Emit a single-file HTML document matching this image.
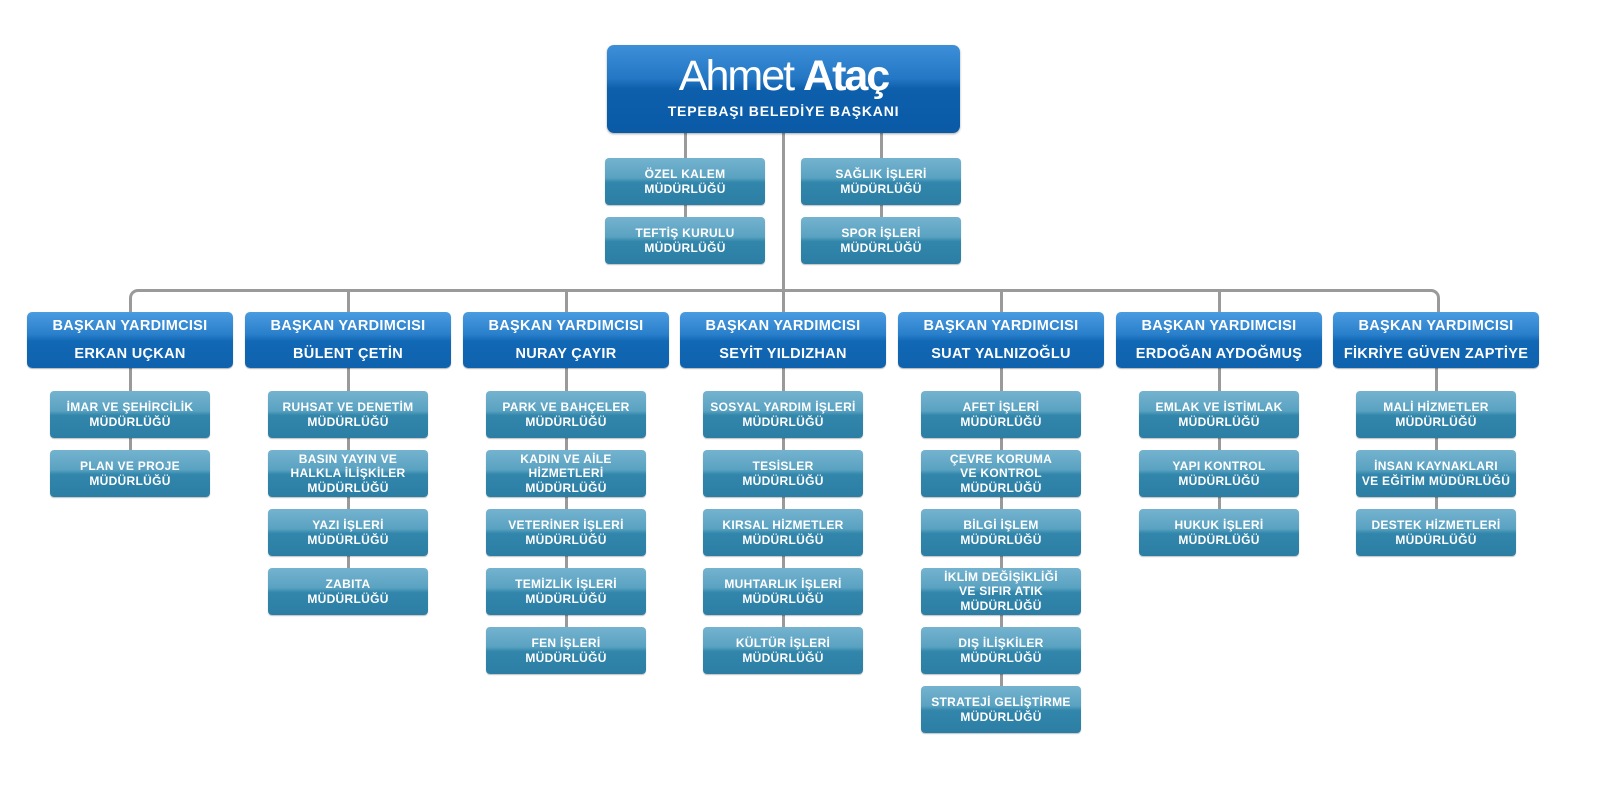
<!DOCTYPE html>
<html><head><meta charset="utf-8"><style>
body{margin:0;width:1600px;height:808px;background:#fff;position:relative;overflow:hidden;font-family:"Liberation Sans",sans-serif;}
.l{position:absolute;background:#9a9a9a;}
.v{width:3px;}
.u{position:absolute;width:160px;height:47px;border-radius:4px;color:#fff;font-weight:bold;font-size:12px;line-height:14.5px;text-align:center;display:flex;align-items:center;justify-content:center;flex-direction:column;background:linear-gradient(#74b3cf 0%,#5aa2c2 42%,#3286ab 52%,#2c7ea4 100%);box-shadow:0 1px 1px rgba(0,0,0,.25);letter-spacing:.3px}
.d{position:absolute;width:206px;height:56px;top:312px;border-radius:5px;color:#fff;font-weight:bold;font-size:14.5px;text-align:center;background:linear-gradient(#4a9ce0 0%,#2a7fcb 40%,#1168b5 52%,#0f62ad 100%);box-shadow:0 1px 1px rgba(0,0,0,.3);letter-spacing:.3px}
.d div{position:absolute;left:0;right:0}
</style></head><body>
<div class="l v" style="left:782px;top:133px;height:160px"></div>
<div class="l v" style="left:684px;top:133px;height:90px"></div>
<div class="l v" style="left:880px;top:133px;height:90px"></div>
<div style="position:absolute;left:129px;top:289px;width:1305px;height:24px;border:3px solid #9a9a9a;border-bottom:none;border-radius:9px 9px 0 0"></div>
<div class="l v" style="left:347px;top:290px;height:24px"></div>
<div class="l v" style="left:565px;top:290px;height:24px"></div>
<div class="l v" style="left:1000px;top:290px;height:24px"></div>
<div class="l v" style="left:1218px;top:290px;height:24px"></div>
<div class="l v" style="left:782px;top:290px;height:24px"></div>
<div class="l v" style="left:129px;top:368px;height:100px"></div>
<div class="l v" style="left:347px;top:368px;height:220px"></div>
<div class="l v" style="left:565px;top:368px;height:280px"></div>
<div class="l v" style="left:782px;top:368px;height:280px"></div>
<div class="l v" style="left:1000px;top:368px;height:340px"></div>
<div class="l v" style="left:1218px;top:368px;height:160px"></div>
<div class="l v" style="left:1435px;top:368px;height:160px"></div>

<div style="position:absolute;left:607px;top:45px;width:353px;height:88px;border-radius:7px;background:linear-gradient(#3d8fd8 0%,#2477c4 38%,#0d5fac 50%,#0a5aa6 100%);box-shadow:0 1px 2px rgba(0,0,0,.35);color:#fff;text-align:center">
<div style="position:absolute;left:0;right:0;top:6px;font-size:43px;letter-spacing:-2px;line-height:50px">Ahmet <b>Ataç</b></div>
<div style="position:absolute;left:0;right:0;top:58px;font-size:14px;font-weight:bold;letter-spacing:.8px">TEPEBAŞI BELEDİYE BAŞKANI</div>
</div>
<div class="u" style="left:605px;top:158px">ÖZEL KALEM<br>MÜDÜRLÜĞÜ</div>
<div class="u" style="left:605px;top:217px">TEFTİŞ KURULU<br>MÜDÜRLÜĞÜ</div>
<div class="u" style="left:801px;top:158px">SAĞLIK İŞLERİ<br>MÜDÜRLÜĞÜ</div>
<div class="u" style="left:801px;top:217px">SPOR İŞLERİ<br>MÜDÜRLÜĞÜ</div>

<div class="d" style="left:27px"><div style="top:6px">BAŞKAN YARDIMCISI</div><div style="top:34px">ERKAN UÇKAN</div></div>
<div class="d" style="left:245px"><div style="top:6px">BAŞKAN YARDIMCISI</div><div style="top:34px">BÜLENT ÇETİN</div></div>
<div class="d" style="left:463px"><div style="top:6px">BAŞKAN YARDIMCISI</div><div style="top:34px">NURAY ÇAYIR</div></div>
<div class="d" style="left:680px"><div style="top:6px">BAŞKAN YARDIMCISI</div><div style="top:34px">SEYİT YILDIZHAN</div></div>
<div class="d" style="left:898px"><div style="top:6px">BAŞKAN YARDIMCISI</div><div style="top:34px">SUAT YALNIZOĞLU</div></div>
<div class="d" style="left:1116px"><div style="top:6px">BAŞKAN YARDIMCISI</div><div style="top:34px">ERDOĞAN AYDOĞMUŞ</div></div>
<div class="d" style="left:1333px"><div style="top:6px">BAŞKAN YARDIMCISI</div><div style="top:34px">FİKRİYE GÜVEN ZAPTİYE</div></div>

<div class="u" style="left:50px;top:391px">İMAR VE ŞEHİRCİLİK<br>MÜDÜRLÜĞÜ</div>
<div class="u" style="left:50px;top:450px">PLAN VE PROJE<br>MÜDÜRLÜĞÜ</div>
<div class="u" style="left:268px;top:391px">RUHSAT VE DENETİM<br>MÜDÜRLÜĞÜ</div>
<div class="u" style="left:268px;top:450px">BASIN YAYIN VE<br>HALKLA İLİŞKİLER<br>MÜDÜRLÜĞÜ</div>
<div class="u" style="left:268px;top:509px">YAZI İŞLERİ<br>MÜDÜRLÜĞÜ</div>
<div class="u" style="left:268px;top:568px">ZABITA<br>MÜDÜRLÜĞÜ</div>
<div class="u" style="left:486px;top:391px">PARK VE BAHÇELER<br>MÜDÜRLÜĞÜ</div>
<div class="u" style="left:486px;top:450px">KADIN VE AİLE<br>HİZMETLERİ<br>MÜDÜRLÜĞÜ</div>
<div class="u" style="left:486px;top:509px">VETERİNER İŞLERİ<br>MÜDÜRLÜĞÜ</div>
<div class="u" style="left:486px;top:568px">TEMİZLİK İŞLERİ<br>MÜDÜRLÜĞÜ</div>
<div class="u" style="left:486px;top:627px">FEN İŞLERİ<br>MÜDÜRLÜĞÜ</div>
<div class="u" style="left:703px;top:391px">SOSYAL YARDIM İŞLERİ<br>MÜDÜRLÜĞÜ</div>
<div class="u" style="left:703px;top:450px">TESİSLER<br>MÜDÜRLÜĞÜ</div>
<div class="u" style="left:703px;top:509px">KIRSAL HİZMETLER<br>MÜDÜRLÜĞÜ</div>
<div class="u" style="left:703px;top:568px">MUHTARLIK İŞLERİ<br>MÜDÜRLÜĞÜ</div>
<div class="u" style="left:703px;top:627px">KÜLTÜR İŞLERİ<br>MÜDÜRLÜĞÜ</div>
<div class="u" style="left:921px;top:391px">AFET İŞLERİ<br>MÜDÜRLÜĞÜ</div>
<div class="u" style="left:921px;top:450px">ÇEVRE KORUMA<br>VE KONTROL<br>MÜDÜRLÜĞÜ</div>
<div class="u" style="left:921px;top:509px">BİLGİ İŞLEM<br>MÜDÜRLÜĞÜ</div>
<div class="u" style="left:921px;top:568px">İKLİM DEĞİŞİKLİĞİ<br>VE SIFIR ATIK<br>MÜDÜRLÜĞÜ</div>
<div class="u" style="left:921px;top:627px">DIŞ İLİŞKİLER<br>MÜDÜRLÜĞÜ</div>
<div class="u" style="left:921px;top:686px">STRATEJİ GELİŞTİRME<br>MÜDÜRLÜĞÜ</div>
<div class="u" style="left:1139px;top:391px">EMLAK VE İSTİMLAK<br>MÜDÜRLÜĞÜ</div>
<div class="u" style="left:1139px;top:450px">YAPI KONTROL<br>MÜDÜRLÜĞÜ</div>
<div class="u" style="left:1139px;top:509px">HUKUK İŞLERİ<br>MÜDÜRLÜĞÜ</div>
<div class="u" style="left:1356px;top:391px">MALİ HİZMETLER<br>MÜDÜRLÜĞÜ</div>
<div class="u" style="left:1356px;top:450px">İNSAN KAYNAKLARI<br>VE EĞİTİM MÜDÜRLÜĞÜ</div>
<div class="u" style="left:1356px;top:509px">DESTEK HİZMETLERİ<br>MÜDÜRLÜĞÜ</div>
</body></html>
